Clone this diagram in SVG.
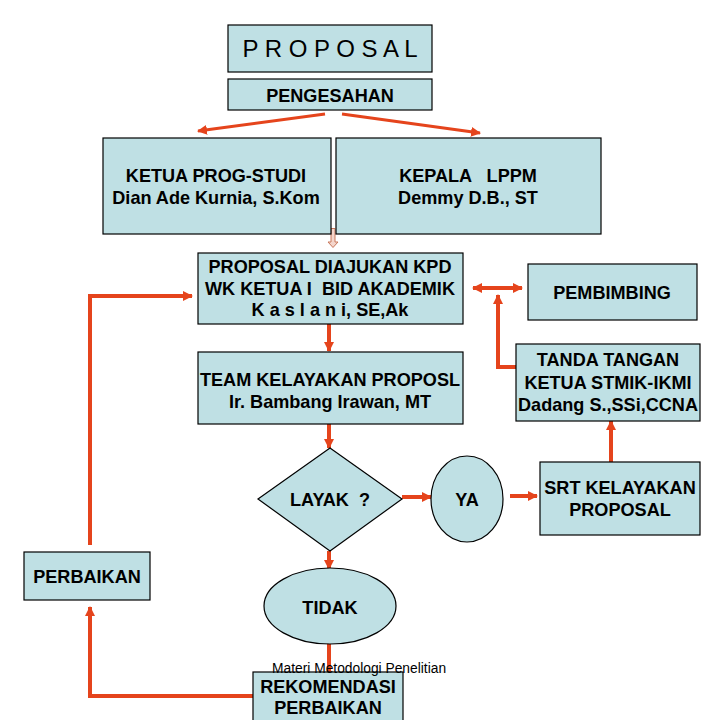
<svg xmlns="http://www.w3.org/2000/svg" width="720" height="720" viewBox="0 0 720 720">
<defs>
<style>
.box{fill:#bfe0e4;stroke:#000;stroke-width:1.2}
.t{font-family:"Liberation Sans",Arial,sans-serif;font-weight:bold;font-size:18.1px;fill:#000;text-anchor:middle;white-space:pre}
.c{fill:none;stroke:#e5441c;stroke-width:4;stroke-linejoin:miter}
.c3{fill:none;stroke:#e5441c;stroke-width:3}
</style>
<marker id="ah" viewBox="0 0 10 10" refX="9" refY="5" markerWidth="10" markerHeight="10" markerUnits="userSpaceOnUse" orient="auto-start-reverse">
<path d="M0,0 L10,5 L0,10 Z" fill="#e5441c"/>
</marker>
</defs>
<rect width="720" height="720" fill="#fff"/>

<g id="connectors">
<line class="c3" x1="325" y1="114" x2="198" y2="131" marker-end="url(#ah)"/>
<line class="c3" x1="342" y1="114" x2="480" y2="133" marker-end="url(#ah)"/>
<polygon points="331,228.5 335,228.5 335,242 338,242 333,247.5 328,242 331,242" fill="#f4d6cc" stroke="#c8785c" stroke-width="1"/>
<line class="c" x1="329" y1="324" x2="329" y2="351" marker-end="url(#ah)"/>
<line class="c" x1="329" y1="424" x2="329" y2="448" marker-end="url(#ah)"/>
<line class="c" x1="402" y1="497" x2="431" y2="497" marker-end="url(#ah)"/>
<line class="c" x1="510" y1="496" x2="537" y2="496" marker-end="url(#ah)"/>
<line class="c" x1="611" y1="462" x2="611" y2="421" marker-end="url(#ah)"/>
<polyline class="c" points="516,367 498,367 498,295" marker-end="url(#ah)"/>
<line class="c" x1="473" y1="288" x2="522" y2="288" marker-start="url(#ah)" marker-end="url(#ah)"/>
<line class="c" x1="329" y1="551" x2="329" y2="569" marker-end="url(#ah)"/>
<line class="c" x1="329" y1="643" x2="329" y2="672"/>
<polyline class="c" points="253,696 90,696 90,607" marker-end="url(#ah)"/>
<polyline class="c" points="90,545 90,296 192,296" marker-end="url(#ah)"/>
</g>

<g id="proposal">
<rect class="box" x="228" y="25" width="204" height="47"/>
<text x="330" y="57" font-family="Liberation Sans,Arial,sans-serif" font-size="24" text-anchor="middle">P R O P O S A L</text>
</g>
<g id="pengesahan">
<rect class="box" x="228" y="79" width="204" height="31"/>
<text class="t" x="330" y="102">PENGESAHAN</text>
</g>
<g id="ketua">
<rect class="box" x="103" y="138" width="228" height="96"/>
<text class="t" x="216" y="182">KETUA PROG-STUDI</text>
<text class="t" x="216" y="204">Dian Ade Kurnia, S.Kom</text>
</g>
<g id="kepala">
<rect class="box" x="336" y="138" width="265" height="96"/>
<text class="t" x="468" y="182">KEPALA   LPPM</text>
<text class="t" x="468" y="204">Demmy D.B., ST</text>
</g>
<g id="diajukan">
<rect class="box" x="198" y="253" width="265" height="71"/>
<text class="t" x="330" y="273">PROPOSAL DIAJUKAN KPD</text>
<text class="t" x="330" y="295">WK KETUA I  BID AKADEMIK</text>
<text class="t" x="330" y="316">K a s l a n i, SE,Ak</text>
</g>
<g id="pembimbing">
<rect class="box" x="528" y="264" width="169" height="56"/>
<text class="t" x="612" y="299" font-size="20.5">PEMBIMBING</text>
</g>
<g id="team">
<rect class="box" x="198" y="352" width="265" height="72"/>
<text class="t" x="330" y="386" font-size="18.8">TEAM KELAYAKAN PROPOSL</text>
<text class="t" x="330" y="408">Ir. Bambang Irawan, MT</text>
</g>
<g id="tanda">
<rect class="box" x="516" y="344" width="184" height="77"/>
<text class="t" x="608" y="366">TANDA TANGAN</text>
<text class="t" x="608" y="389">KETUA STMIK-IKMI</text>
<text class="t" x="608" y="411">Dadang S.,SSi,CCNA</text>
</g>
<g id="layak">
<polygon class="box" points="330,448 402,499 330,551 258,499"/>
<text class="t" x="330" y="506" font-size="20">LAYAK  ?</text>
</g>
<g id="ya">
<ellipse class="box" cx="467" cy="499" rx="36" ry="43"/>
<text class="t" x="467" y="506">YA</text>
</g>
<g id="srt">
<rect class="box" x="540" y="462" width="160" height="73"/>
<text class="t" x="620" y="494">SRT KELAYAKAN</text>
<text class="t" x="620" y="516">PROPOSAL</text>
</g>
<g id="perbaikan">
<rect class="box" x="24" y="552" width="126" height="48"/>
<text class="t" x="87" y="583">PERBAIKAN</text>
</g>
<g id="tidak">
<ellipse class="box" cx="330" cy="606" rx="66" ry="38"/>
<text class="t" x="330" y="614">TIDAK</text>
</g>
<g id="rekomendasi">
<rect class="box" x="253" y="672" width="150" height="56"/>
<text class="t" x="328" y="693">REKOMENDASI</text>
<text class="t" x="328" y="714">PERBAIKAN</text>
</g>
<text x="272" y="673" font-family="Liberation Sans,Arial,sans-serif" font-size="13.8" fill="#000">Materi Metodologi Penelitian</text>
</svg>
